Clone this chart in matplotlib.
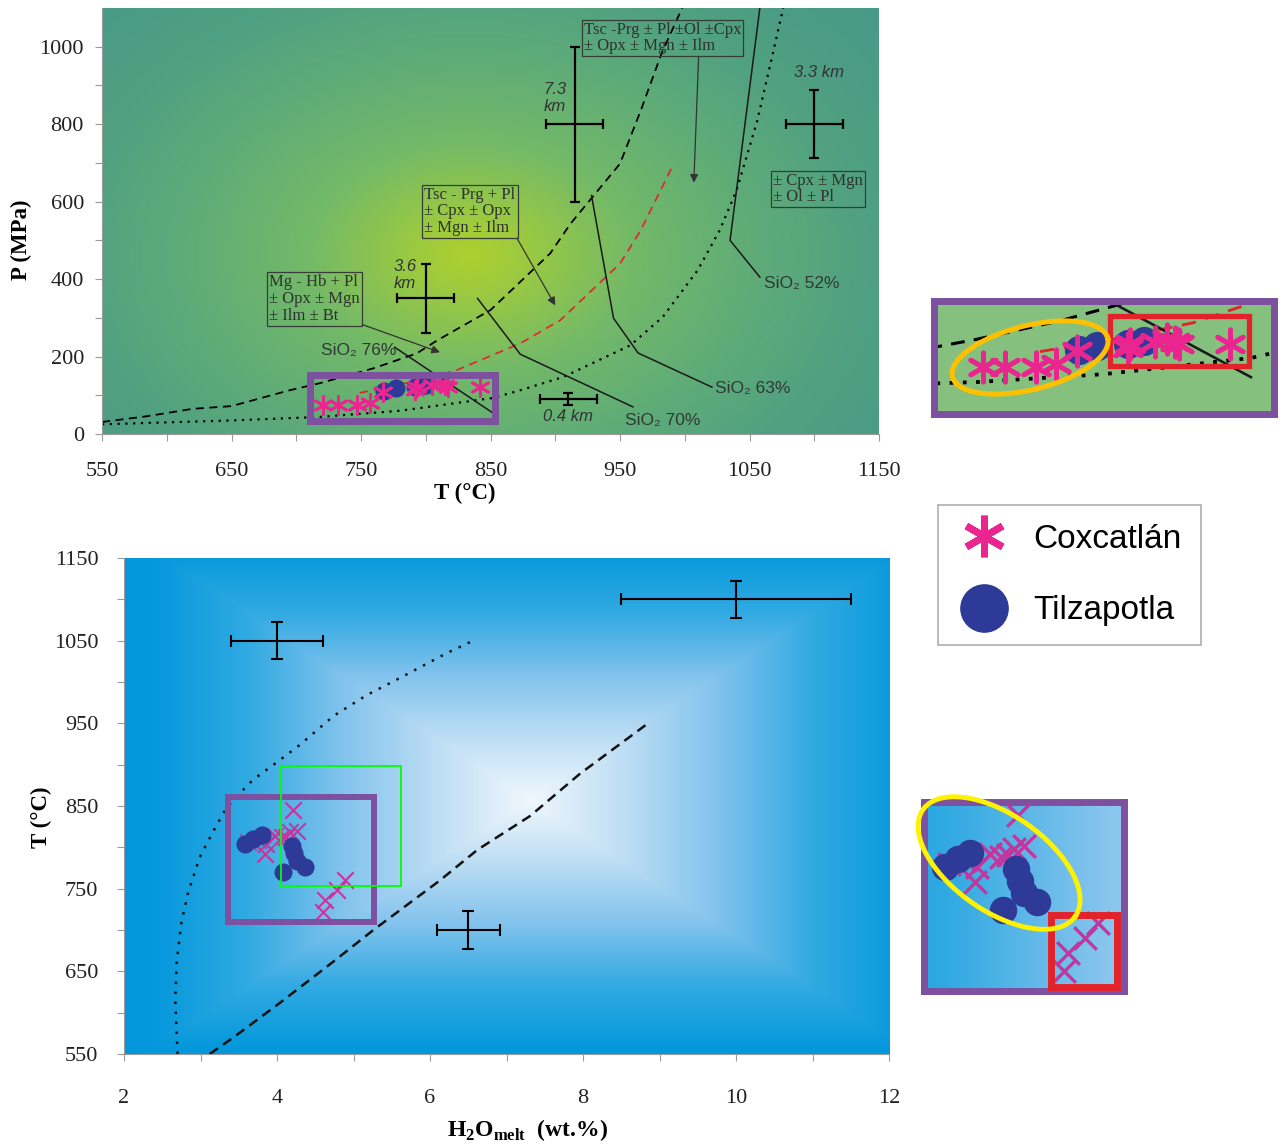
#!/usr/bin/env python3
# -*- coding: utf-8 -*-
import numpy as np
import matplotlib
matplotlib.use("Agg")
import matplotlib.pyplot as plt
from matplotlib.patches import Rectangle
from matplotlib.lines import Line2D

plt.rcParams['font.family'] = ['Liberation Serif', 'DejaVu Serif']
plt.rcParams['mathtext.fontset'] = 'custom'
plt.rcParams['mathtext.rm'] = 'Liberation Serif'
plt.rcParams['mathtext.bf'] = 'Liberation Serif:bold'
SANS = ['Liberation Sans', 'DejaVu Sans']

PINK = '#EA2590'
XPINK = '#C4359E'
BLUE = '#2E3A98'
PURPLE = '#7D50A0'
RED = '#E3232B'

# ---------------- top panel: P-T ----------------
wet_T = [550, 585, 620, 650, 695, 718, 760, 793, 809, 850, 896, 912, 950, 966, 982, 998]
wet_P = [31, 46, 65, 72, 113, 131, 170, 208, 242, 320, 466, 544, 698, 835, 982, 1100]
dry_T = [550, 650, 718, 780, 852, 873, 906, 958, 983, 1010, 1027, 1040, 1056, 1068, 1076]
dry_P = [25, 35, 44, 60, 93, 113, 147, 229, 302, 423, 526, 629, 809, 982, 1100]
red_T = [749, 790, 824, 873, 904, 950, 966, 990]
red_P = [106, 135, 165, 234, 294, 440, 526, 688]

sio2_76_T, sio2_76_P = [776, 852], [224, 54]
sio2_70_T, sio2_70_P = [840, 873, 960], [350, 206, 70]
sio2_63_T, sio2_63_P = [928, 945, 964, 1021], [616, 299, 209, 121]
sio2_52_T, sio2_52_P = [1058, 1035, 1058], [1100, 500, 405]

cox_T = [721, 732, 747, 757, 767, 792, 793, 805, 811, 815, 817, 842]
cox_P = [75, 75, 75, 80, 108, 113, 121, 126, 131, 126, 121, 121]
tilz_T = [768, 777, 792, 800]
tilz_P = [110, 118, 121, 127]

err_T = [915, 1100, 800, 910]
err_P = [800, 800, 350, 90]
err_dT = [22, 22, 22, 22]
err_dP = [200, 87, 88, 15]
err_text = ['7.3\nkm', '3.3 km', '3.6\nkm', '0.4 km']

# ---------------- bottom panel: T-H2O ----------------
h2o_dot_x = [2.70, 2.67, 2.69, 2.75, 2.84, 2.99, 3.17, 3.34, 3.52, 3.69, 4.00, 4.30, 4.74, 5.17, 5.61, 6.22, 6.61]
h2o_dot_T = [550, 616, 662, 709, 746, 788, 820, 848, 866, 882, 903, 924, 959, 984, 1005, 1035, 1052]
h2o_dash_x = [3.12, 3.43, 4.04, 4.74, 5.26, 6.13, 6.62, 7.31, 7.96, 8.85]
h2o_dash_T = [550, 570, 612, 662, 700, 760, 797, 838, 889, 950]

cox_w = [4.21, 4.26, 4.17, 3.97, 4.06, 3.86, 3.75, 3.84, 3.62, 4.12, 4.89, 4.78, 4.63, 4.60]
cox_wT = [845, 820, 818, 814, 812, 804, 809, 792, 806, 813, 760, 748, 736, 722]
tilz_w = [3.58, 3.69, 3.80, 4.19, 4.22, 4.26, 4.37, 4.08]
tilz_wT = [804, 810, 815, 802, 793, 783, 776, 770]

werr_x = [4.0, 10.0, 6.5]
werr_T = [1050, 1100, 700]
werr_dx = [0.6, 1.5, 0.41]
werr_dT = [22, 22, 23]


FW, FH = 1284, 1145
fig = plt.figure(figsize=(FW / 100, FH / 100), dpi=100)


def box(l, t, r, b):
    return [l / FW, 1 - b / FH, (r - l) / FW, (b - t) / FH]


def ramp(v, stops, cols):
    cols = np.array(cols) / 255.0
    return np.stack([np.interp(v, stops, cols[:, i]) for i in range(3)], -1)


def top_bg(T, P):
    r = np.hypot((T - 834) / 363.0, (P - 461) / 850.0)
    return ramp(r, [0, 0.15, 0.35, 0.6, 0.85, 1.3],
                [[175, 208, 45], [150, 200, 70], [115, 185, 105],
                 [95, 172, 120], [80, 160, 130], [68, 150, 138]])


def bottom_bg(x, T):
    t = np.maximum(np.abs(x - 7.3) / 4.9, np.abs(T - 857) / 300.0)
    return ramp(t, [0, 0.25, 0.5, 0.75, 1.0, 1.3],
                [[240, 247, 253], [190, 222, 244], [130, 195, 237],
                 [50, 170, 226], [5, 152, 220], [0, 145, 215]])


def paint(ax, func, xr, yr, n=300):
    X, Y = np.meshgrid(np.linspace(*xr, n), np.linspace(*yr, n))
    ax.imshow(func(X, Y), extent=[*xr, *yr], origin='lower', aspect='auto',
              zorder=0, interpolation='bilinear')


def ring(ax, cx, cy, a, b, ang, **kw):
    # ellipse drawn in pixel units around an axes-fraction centre
    pos = ax.get_position()
    w = pos.width * FW
    h = pos.height * FH
    t = np.linspace(0, 2 * np.pi, 200)
    r = np.deg2rad(ang)
    px = a * np.cos(t) * np.cos(r) - b * np.sin(t) * np.sin(r)
    py = a * np.cos(t) * np.sin(r) + b * np.sin(t) * np.cos(r)
    ax.plot(cx + px / w, cy + py / h, transform=ax.transAxes, clip_on=False, **kw)


def draw_pt(ax, ms=1.0, lw=1.0, bs=1.0):
    ax.plot(wet_T, wet_P, color='k', lw=1.3 * lw, ls=(0, (4.5, 3)), zorder=2)
    ax.plot(dry_T, dry_P, color='k', lw=1.6 * lw, ls=(0, (1, 2.5)), zorder=2)
    ax.plot(red_T, red_P, color=RED, lw=1.2 * lw, ls=(0, (5, 3.5)), zorder=2)
    for T, P in [(sio2_76_T, sio2_76_P), (sio2_70_T, sio2_70_P),
                 (sio2_63_T, sio2_63_P), (sio2_52_T, sio2_52_P)]:
        ax.plot(T, P, color='#1a1a1a', lw=1.1 * lw, zorder=2)
    ax.scatter(tilz_T, tilz_P, s=170 * bs, color=BLUE, lw=0, zorder=3)
    ax.scatter(cox_T, cox_P, s=170 * ms, marker=(6, 2, 0), color=PINK,
               linewidths=2.0 * lw, zorder=4)


def draw_th(ax, ms=1.0, lw=1.0, bs=1.0):
    ax.plot(h2o_dot_x, h2o_dot_T, color='#111', lw=1.8 * lw, ls=(0, (1, 3)), zorder=2)
    ax.plot(h2o_dash_x, h2o_dash_T, color='#111', lw=1.8 * lw, ls=(0, (4, 2.5)), zorder=2)
    ax.scatter(cox_w, cox_wT, s=140 * ms, marker='x', color=XPINK,
               linewidths=1.5 * lw, zorder=3)
    ax.scatter(tilz_w, tilz_wT, s=170 * bs, color=BLUE, lw=0, zorder=4)


def style_axis(ax):
    for s in ['top', 'right']:
        ax.spines[s].set_visible(False)
    for s in ['left', 'bottom']:
        ax.spines[s].set_color('#9a9a9a')
        ax.spines[s].set_linewidth(0.8)
    ax.tick_params(which='both', direction='out', length=5, width=0.8,
                   color='#9a9a9a', labelsize=16, labelcolor='#222')


# ---------- top main ----------
ax1 = fig.add_axes(box(102, 8, 879, 434))
paint(ax1, top_bg, (550, 1150), (0, 1100))
draw_pt(ax1)
ax1.errorbar(err_T, err_P, xerr=err_dT, yerr=err_dP, fmt='none', ecolor='k',
             elinewidth=1.6, capsize=3.6, capthick=1.6, zorder=2.5)
lab_pos = [(900, 868), (1104, 933), (784, 410), (910, 44)]
for (x, y), s in zip(lab_pos, err_text):
    ax1.text(x, y, s, ha='center', va='center', fontsize=12, style='italic',
             family=SANS, color='#333', linespacing=1.15)

sio2_labels = [('SiO\u2082 76%', 719, 216), ('SiO\u2082 70%', 954, 34),
               ('SiO\u2082 63%', 1023, 118), ('SiO\u2082 52%', 1061, 389)]
for s, x, y in sio2_labels:
    ax1.text(x, y, s, ha='left', va='center', fontsize=12.5, family=SANS, color='#2e3a33')

bbox = dict(boxstyle='square,pad=0.12', fc='none', ec='#353d35', lw=0.9)
arrow = dict(arrowstyle='-|>', color='#333', lw=0.9, mutation_scale=12,
             shrinkA=0, shrinkB=0)
ax1.annotate('Tsc -Prg \u00b1 Pl \u00b1Ol \u00b1Cpx\n\u00b1 Opx \u00b1 Mgn \u00b1 Ilm',
             xy=(1007, 649), xytext=(922, 1064), ha='left', va='top', fontsize=12,
             color='#2d332d', linespacing=1.0, bbox=bbox,
             arrowprops=dict(arrow, relpos=(0.73, 0)), zorder=5)
ax1.annotate('Tsc - Prg + Pl\n\u00b1 Cpx \u00b1 Opx\n\u00b1 Mgn \u00b1 Ilm',
             xy=(900, 332), xytext=(799, 639), ha='left', va='top', fontsize=12,
             color='#2d332d', linespacing=1.05, bbox=bbox,
             arrowprops=dict(arrow, relpos=(1, 0)), zorder=5)
ax1.annotate('Mg - Hb + Pl\n\u00b1 Opx \u00b1 Mgn\n\u00b1 Ilm \u00b1 Bt',
             xy=(811, 211), xytext=(679, 412), ha='left', va='top', fontsize=12,
             color='#2d332d', linespacing=1.05, bbox=bbox,
             arrowprops=dict(arrow, relpos=(1, 0)), zorder=5)
ax1.text(1068, 675, '\u00b1 Cpx \u00b1 Mgn\n\u00b1 Ol \u00b1 Pl', ha='left', va='top',
         fontsize=12, color='#2d332d', linespacing=1.05, bbox=bbox, zorder=5)

ax1.add_patch(Rectangle((710.6, 33.5), 143.1, 118.5, fill=False, ec=PURPLE,
                        lw=5, zorder=6))
ax1.set_xlim(550, 1150)
ax1.set_ylim(0, 1100)
ax1.set_xticks(np.arange(550, 1151, 100))
ax1.set_xticks(np.arange(600, 1150, 100), minor=True)
ax1.set_yticks(np.arange(0, 1001, 200))
ax1.set_yticks(np.arange(100, 1000, 200), minor=True)
style_axis(ax1)
ax1.tick_params(axis='x', pad=15)
ax1.tick_params(axis='y', pad=8)
ax1.set_xlabel('T (\u00b0C)', fontsize=16.5, fontweight='bold')
ax1.set_ylabel('P (MPa)', fontsize=16.5, fontweight='bold')
ax1.xaxis.set_label_coords(0.467, -0.115)
ax1.yaxis.set_label_coords(-0.090, 0.455)

# ---------- bottom main ----------
ax2 = fig.add_axes(box(124, 558, 889, 1054))
paint(ax2, bottom_bg, (2, 12), (550, 1150))
draw_th(ax2)
ax2.errorbar(werr_x, werr_T, xerr=werr_dx, yerr=werr_dT, fmt='none', ecolor='k',
             elinewidth=1.5, capsize=4.3, capthick=1.5, zorder=2.5)
ax2.add_patch(Rectangle((3.36, 710), 1.91, 151, fill=False, ec=PURPLE, lw=4.3, zorder=5))
ax2.add_patch(Rectangle((4.05, 753), 1.57, 145.6, fill=False, ec='#00FF00', lw=1.3, zorder=6))
ax2.set_xlim(2, 12)
ax2.set_ylim(550, 1150)
ax2.set_xticks(np.arange(2, 13, 2))
ax2.set_xticks(np.arange(3, 12, 2), minor=True)
ax2.set_yticks(np.arange(550, 1151, 100))
ax2.set_yticks(np.arange(600, 1150, 100), minor=True)
style_axis(ax2)
ax2.tick_params(axis='x', pad=20)
ax2.tick_params(axis='y', pad=13.5)
ax2.set_xlabel(r'H$_{\mathbf{2}}$O$_{\mathbf{melt}}$  (wt.%)', fontsize=17, fontweight='bold')
ax2.set_ylabel('T (\u00b0C)', fontsize=16.5, fontweight='bold')
ax2.xaxis.set_label_coords(0.528, -0.127)
ax2.yaxis.set_label_coords(-0.094, 0.478)

# ---------- insets ----------
ins1 = fig.add_axes(box(933.5, 301.5, 1273.5, 413.5))
ins1.set_facecolor('#86C07F')
draw_pt(ins1, ms=2.6, lw=1.7, bs=2.6)
ins1.set_xlim(697, 863)
ins1.set_ylim(-20, 208)
ins1.add_patch(Rectangle((783, 77), 68, 102, fill=False, ec=RED, lw=3.8, zorder=6))
ring(ins1, 0.284, 0.50, 80, 32, 14, color='#FFC000', lw=3.6, zorder=6)

ins2 = fig.add_axes(box(923.5, 802, 1124, 991))
paint(ins2, bottom_bg, (3.40, 5.11), (706, 855))
draw_th(ins2, ms=1.9, lw=1.6, bs=2.3)
ins2.set_xlim(3.40, 5.11)
ins2.set_ylim(706, 855)
ins2.add_patch(Rectangle((4.49, 709.5), 0.56, 56.5, fill=False, ec=RED, lw=5,
                         zorder=6, clip_on=False))
ring(ins2, 0.377, 0.677, 93, 48, -35, color='#FFF200', lw=3.5, zorder=6)

for a in (ins1, ins2):
    a.set_xticks([])
    a.set_yticks([])
    for s in a.spines.values():
        s.set_color(PURPLE)
        s.set_linewidth(5)

# ---------- legend ----------
handles = [Line2D([], [], ls='none', marker=(6, 2, 0), color=PINK, markersize=30, mew=5),
           Line2D([], [], ls='none', marker='o', color=BLUE, markersize=34)]
leg = fig.legend(handles, ['Coxcatl\u00e1n', 'Tilzapotla'], loc='upper left',
                 bbox_to_anchor=(938 / FW, 1 - 505 / FH), frameon=True, fancybox=False,
                 edgecolor='#999999', prop={'family': SANS, 'size': 24},
                 handlelength=1.6, handletextpad=0.7, borderpad=0.57,
                 labelspacing=1.21, borderaxespad=0)
leg.get_frame().set_linewidth(1.2)

fig.savefig('out.png', dpi=100)
